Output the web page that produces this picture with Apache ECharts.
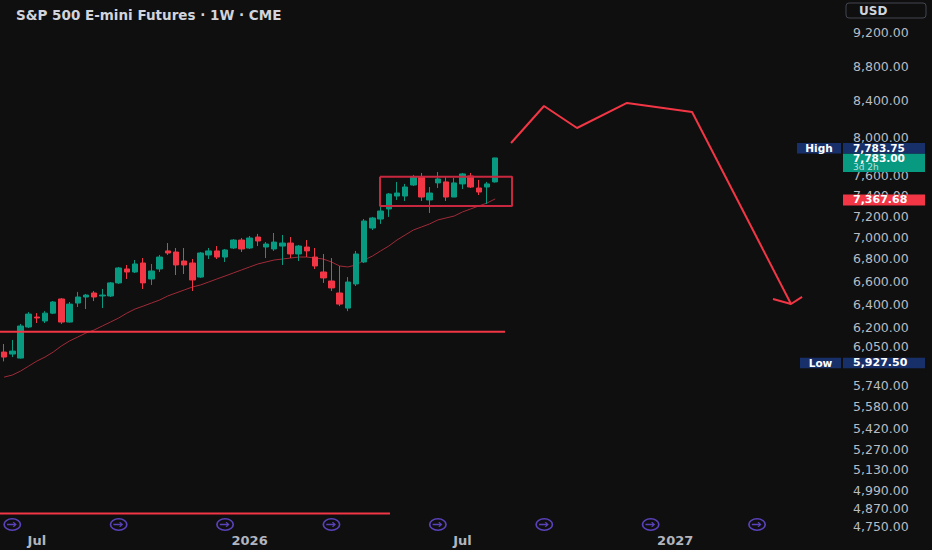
<!DOCTYPE html>
<html>
<head>
<meta charset="utf-8">
<script src="https://cdn.jsdelivr.net/npm/echarts@6/dist/echarts.min.js"></script>
<style>
html,body{margin:0;padding:0;background:#0f0f0f;}
#c{width:932px;height:550px;}
</style>
</head>
<body>
<div id="c"></div>
<script>
// ---------------- data ----------------
const chartTitle = 'S&P 500 E-mini Futures · 1W · CME';
const currencyLabel = 'USD';
const startDate = '2025-06-09';
const totalWeeks = 103;

const opens = [6002,5986,5954,6207,6290,6257,6323,6444,6248,6409,
  6461,6496,6470,6470,6584,6708,6681,6762,6619,6708,
  6872,6862,6780,6762,6636,6835,6872,6816,6899,6973,
  6899,7001,6908,6890,6917,6945,6844,6908,6816,6681,
  6601,6496,6366,6575,6771,7086,7172,7269,7396,7396,
  7506,7587,7357,7527,7537,7386,7517,7597,7476,7486,
  7537];
const closes = [5962,6010,6215,6315,6282,6323,6418,6248,6400,6461,
  6478,6461,6478,6584,6717,6681,6753,6584,6690,6816,
  6853,6744,6744,6610,6853,6872,6816,6881,6973,6890,
  6992,6964,6936,6954,6945,6844,6917,6872,6735,6628,
  6540,6400,6592,6844,7153,7182,7249,7416,7426,7486,
  7587,7386,7426,7567,7386,7527,7618,7486,7436,7517,
  7783];
const highs = [6067,6100,6232,6332,6323,6340,6426,6452,6418,6505,
  6487,6513,6531,6592,6726,6744,6789,6807,6753,6835,
  6945,6899,6899,6798,6862,6899,6917,6890,6982,6992,
  7011,7030,6954,7039,7020,7001,6927,6973,6899,6844,
  6807,6735,6636,6872,7172,7192,7288,7426,7537,7517,
  7608,7628,7486,7638,7587,7577,7628,7628,7557,7537,
  7783.75];
const lows = [5927.5,5962,5950,6198,6240,6240,6315,6232,6245,6375,
  6358,6426,6366,6461,6575,6619,6672,6531,6566,6681,
  6835,6654,6663,6513,6628,6798,6798,6771,6890,6862,
  6890,6917,6807,6872,6744,6807,6780,6816,6708,6584,
  6513,6383,6340,6557,6762,7067,7125,7192,7357,7347,
  7496,7347,7230,7476,7347,7386,7466,7476,7406,7318,
  7530];
const movingAvg = [5804,5820,5851,5890,5930,5962,6002,6051,6092,6124,
  6157,6182,6215,6248,6282,6323,6358,6383,6409,6435,
  6470,6496,6522,6548,6566,6592,6619,6645,6672,6699,
  6726,6753,6771,6789,6798,6807,6816,6816,6807,6798,
  6771,6735,6726,6744,6789,6825,6872,6917,6973,7020,
  7067,7096,7125,7163,7182,7201,7240,7269,7298,7327,
  7367.68];

const yTickValues = [4750,4870,4990,5130,5270,5420,5580,5740,6050,6200,6400,6600,6800,7000,7200,7400,7600,8000,8400,8800,9200];
const xLabelMonths = {1:'year', 7:'Jul'};

const eventDates = ['2025-06-16','2025-09-15','2025-12-15','2026-03-16','2026-06-15','2026-09-14','2026-12-14','2027-03-15'];
const eventPrice = 4765;

const supportPrice = 6168, supportEndWeek = 61.2;
const floorPrice = 4836, floorEndWeek = 47.15;
const boxWeeks = [45.93, 62.06];
const boxPrices = [7590, 7298];
const forecastWeeks = [61.94, 65.97, 70.0, 76.11, 84.06, 96.15];
const forecastPrices = [7940, 8343, 8101, 8377, 8276, 6401];
const arrowWeeks = [93.95, 96.15, 97.5];
const arrowPrices = [6444, 6401, 6462];
const countdownText = '3d 2h';

// ---------------- build ----------------
const W = 932, H = 550, gridRight = 89, gridBottom = 20;
const DAY = 864e5;
const d0 = new Date(startDate + 'T00:00:00Z');
const cats = [];
for (let i = 0; i < totalWeeks; i++) cats.push(new Date(d0.getTime() + i * 7 * DAY).toISOString().slice(0, 10));
const weekIndex = s => Math.round((new Date(s + 'T00:00:00Z') - d0) / (7 * DAY));
function xLabelFor(i) {
  if (i <= 0) return null;
  const m = +cats[i].slice(5, 7), pm = +cats[i - 1].slice(5, 7);
  if (m === pm || !xLabelMonths[m]) return null;
  return xLabelMonths[m] === 'year' ? cats[i].slice(0, 4) : xLabelMonths[m];
}
const fmt = v => Number(v).toLocaleString('en-US', {minimumFractionDigits: 2, maximumFractionDigits: 2});
const pairs = (xs, ys) => xs.map((x, i) => [x, ys[i]]);

const RED = '#f23645', GREEN = '#089981';
const eventSymbol = 'path://M2,40 A48,38 0 1,0 98,40 A48,38 0 1,0 2,40 Z M11,40 A39,29 0 1,1 89,40 A39,29 0 1,1 11,40 Z M22,36 L60,36 L52,27 L59,25 L74,40 L59,55 L52,53 L60,44 L22,44 Z';

const chart = echarts.init(document.getElementById('c'), null, {renderer: 'svg', width: W, height: H});
const option = {
  backgroundColor: '#0f0f0f',
  animation: false,
  title: {
    text: chartTitle, left: 11, top: 3,
    textStyle: {color: '#d1d4dc', fontSize: 13.5, fontWeight: 'bold', fontFamily: 'DejaVu Sans'}
  },
  grid: {left: 0, right: gridRight, top: 0, bottom: gridBottom},
  xAxis: [{
    type: 'category', data: cats, boundaryGap: true,
    axisLine: {show: false}, axisTick: {show: false}, splitLine: {show: false},
    axisLabel: {
      interval: (idx) => xLabelFor(idx) !== null,
      formatter: (val, idx) => xLabelFor(idx) || '',
      color: '#b2b5be', fontSize: 13, fontWeight: 'bold', fontFamily: 'DejaVu Sans', margin: 4
    }
  }, {
    type: 'value', min: -0.5, max: totalWeeks - 0.5, show: false
  }],
  yAxis: [{
    type: 'log', logBase: 10, position: 'right', min: 4730, max: 9615,
    axisLine: {show: false}, axisTick: {show: false}, splitLine: {show: false},
    axisLabel: {
      customValues: yTickValues, formatter: v => fmt(v),
      color: '#b8bbc2', fontSize: 12.5, fontFamily: 'DejaVu Sans', margin: 10
    }
  }],
  series: [
    {
      type: 'candlestick', xAxisIndex: 0, yAxisIndex: 0, barWidth: 6,
      data: opens.map((o, i) => [o, closes[i], lows[i], highs[i]]),
      itemStyle: {color: GREEN, color0: RED, borderColor: GREEN, borderColor0: RED, borderWidth: 1}
    },
    {
      type: 'line', xAxisIndex: 0, yAxisIndex: 0, data: movingAvg, symbol: 'none',
      lineStyle: {color: '#a02a38', width: 1}, z: 1
    },
    {
      type: 'line', xAxisIndex: 1, yAxisIndex: 0, symbol: 'none',
      data: [[-0.5, supportPrice], [supportEndWeek, supportPrice]],
      lineStyle: {color: RED, width: 2}
    },
    {
      type: 'line', xAxisIndex: 1, yAxisIndex: 0, symbol: 'none',
      data: [[-0.5, floorPrice], [floorEndWeek, floorPrice]],
      lineStyle: {color: RED, width: 2}
    },
    {
      type: 'line', xAxisIndex: 1, yAxisIndex: 0, symbol: 'none',
      data: [[boxWeeks[0], boxPrices[0]], [boxWeeks[1], boxPrices[0]], [boxWeeks[1], boxPrices[1]], [boxWeeks[0], boxPrices[1]], [boxWeeks[0], boxPrices[0]]],
      lineStyle: {color: '#c8283f', width: 2}
    },
    {
      type: 'line', xAxisIndex: 1, yAxisIndex: 0, symbol: 'none',
      data: pairs(forecastWeeks, forecastPrices),
      lineStyle: {color: RED, width: 2}
    },
    {
      type: 'line', xAxisIndex: 1, yAxisIndex: 0, symbol: 'none',
      data: pairs(arrowWeeks, arrowPrices),
      lineStyle: {color: RED, width: 2}
    },
    {
      type: 'scatter', xAxisIndex: 1, yAxisIndex: 0,
      data: eventDates.map(d => [weekIndex(d), eventPrice]),
      symbol: eventSymbol, symbolSize: [18, 13],
      itemStyle: {color: '#6e4fe6'}
    }
  ]
};
chart.setOption(option);

// price tags on the price scale
const gx = W - gridRight;
const py = v => chart.convertToPixel({yAxisIndex: 0}, v);
const els = [];
function rect(x, y, w, h, fill) {
  els.push({type: 'rect', z: 100, shape: {x, y, width: w, height: h, r: 0}, style: {fill}});
}
function text(str, x, y, color, font, align) {
  els.push({type: 'text', z: 101, style: {text: str, x, y, fill: color, font,
    textAlign: align || 'left', textVerticalAlign: 'middle', align: align || 'left', verticalAlign: 'middle'}});
}
const NAVY = '#18306a';
const valFont = 'bold 11px "DejaVu Sans"';
const tagFont = 'bold 10.5px "DejaVu Sans"';
const hiVal = Math.max.apply(null, highs), loVal = Math.min.apply(null, lows);
const lastClose = closes[closes.length - 1], lastMA = movingAvg[movingAvg.length - 1];

// current price (green, 2 lines)
const gTop = py(lastClose) - 4.5;
rect(gx, gTop, 82, 18.5, GREEN);
text(fmt(lastClose), gx + 10, gTop + 4.8, '#ffffff', 'bold 10.5px "DejaVu Sans"');
text(countdownText, gx + 10, gTop + 14, 'rgba(255,255,255,0.72)', '9px "DejaVu Sans"');
// High
const hC = gTop - 5.25;
rect(gx, hC - 5.25, 82, 10.5, NAVY);
text(fmt(hiVal), gx + 10, hC, '#ffffff', 'bold 10.5px "DejaVu Sans"');
rect(gx - 46, hC - 5.25, 44, 10.5, NAVY);
text('High', gx - 24, hC, '#ffffff', tagFont, 'center');
// MA
const mC = py(lastMA) + 1;
rect(gx, mC - 5.5, 82, 11, RED);
text(fmt(lastMA), gx + 10, mC, '#ffffff', valFont);
// Low
const lC = py(loVal) + 1.5;
rect(gx, lC - 5.25, 82, 10.5, NAVY);
text(fmt(loVal), gx + 10, lC, '#ffffff', valFont);
rect(gx - 43, lC - 5.25, 41, 10.5, NAVY);
text('Low', gx - 22.5, lC, '#ffffff', tagFont, 'center');
// currency box
els.push({type: 'rect', z: 100, shape: {x: gx + 3, y: 3, width: 80, height: 15, r: 3}, style: {fill: 'none', stroke: '#434651', lineWidth: 1}});
text(currencyLabel, gx + 16, 10.5, '#d1d4dc', 'bold 12px "DejaVu Sans"');

chart.setOption({graphic: els});
</script>
</body>
</html>
